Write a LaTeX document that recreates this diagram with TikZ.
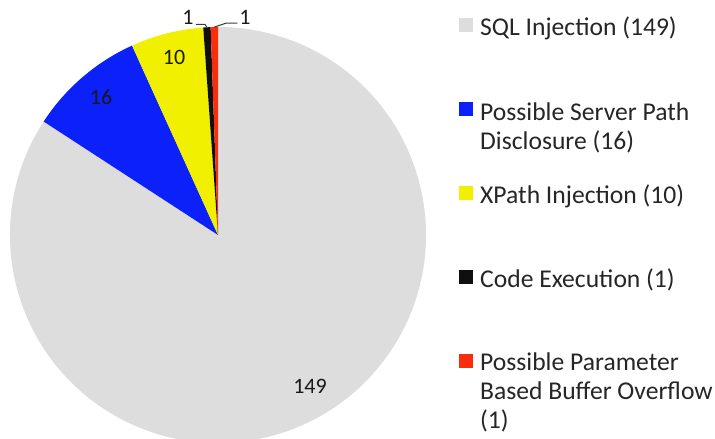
\documentclass[tikz,border=0pt]{standalone}
\usepackage{fontspec}
\setmainfont{Carlito}
\usetikzlibrary{calc}
\definecolor{sqlgray}{RGB}{221,221,221}
\definecolor{pathblue}{RGB}{12,32,250}
\definecolor{xpyellow}{RGB}{240,240,0}
\definecolor{codeblack}{RGB}{15,15,15}
\definecolor{bufred}{RGB}{250,45,10}
\definecolor{leader}{RGB}{60,60,60}
\begin{document}
\begin{tikzpicture}[x=1pt,y=1pt,
  legsq/.style={minimum size=14pt,inner sep=0pt,anchor=south west},
  legtxt/.style={anchor=base west,inner sep=0pt,align=left,font=\fontsize{25.6}{29}\selectfont,text=black!85},
  pielbl/.style={inner sep=0pt,font=\fontsize{22}{26}\selectfont,text=black!90},
  leadline/.style={draw=leader,line width=1pt}]
\useasboundingbox (0,0) rectangle (715,439);
\fill[white] (0,0) rectangle (715,439);
% pie: 149 + 16 + 10 + 1 + 1 = 177, slices from the top going clockwise
\coordinate (c) at (218,204);
\def\R{208}
\fill[sqlgray]   (c) -- ++(146.95:\R) arc[start angle=146.95,end angle=450,radius=\R] -- cycle;
\fill[pathblue]  (c) -- ++(114.41:\R) arc[start angle=114.41,end angle=146.95,radius=\R] -- cycle;
\fill[xpyellow]  (c) -- ++(94.07:\R) arc[start angle=94.07,end angle=114.41,radius=\R] -- cycle;
\fill[codeblack] (c) -- ++(92.03:\R) arc[start angle=92.03,end angle=94.07,radius=\R] -- cycle;
\fill[bufred]    (c) -- ++(90:\R) arc[start angle=90,end angle=92.03,radius=\R] -- cycle;
% slice values
\node[pielbl] (v149) at (310,53) {149};
\node[pielbl] (v16) at (101,342) {16};
\node[pielbl] (v10) at (174,382) {10};
\node[pielbl] (vcode) at (188,422) {1};
\node[pielbl] (vbuf) at (245,422) {1};
\coordinate (codetip) at ($(c)+(93.05:\R)$);
\coordinate (buftip) at ($(c)+(91.0:\R)$);
\draw[leadline] (codetip) -- ++(-2,3) -- ++(-9,0);
\draw[leadline] (buftip) -- ++(12,4) -- ++(11,0);
% legend (multi-line entries are placed by the baseline of their last line)
\node[legsq,fill=sqlgray]   (k1) at (459,407) {};
\node[legtxt] (t1) at (480,403) {SQL Injection (149)};
\node[legsq,fill=pathblue]  (k2) at (459,323) {};
\node[legtxt] (t2) at (480,289) {Possible Server Path\\Disclosure (16)};
\node[legsq,fill=xpyellow]  (k3) at (459,239) {};
\node[legtxt] (t3) at (480,235) {XPath Injection (10)};
\node[legsq,fill=codeblack] (k4) at (459,155) {};
\node[legtxt] (t4) at (480,151) {Code Execution (1)};
\node[legsq,fill=bufred]    (k5) at (459,71) {};
\node[legtxt] (t5) at (480,10) {Possible Parameter\\Based Buffer Overflow\\(1)};
\end{tikzpicture}
\end{document}
